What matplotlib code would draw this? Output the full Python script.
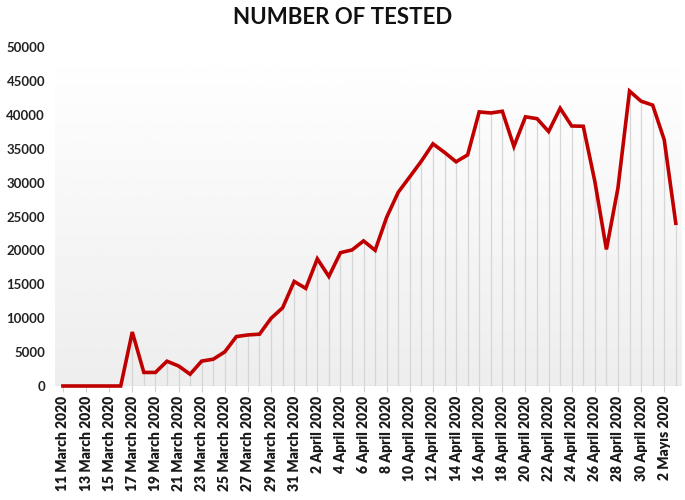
import numpy as np
import pandas as pd
import matplotlib
matplotlib.use("Agg")
import matplotlib.pyplot as plt

plt.rcParams['font.family'] = ['Lato', 'DejaVu Sans']

# daily number of tests, 11 March 2020 .. 3 May 2020
dates = pd.date_range("2020-03-11", "2020-05-03", freq="D")
tested = [0, 0, 0, 0, 0, 0, 7960, 2000, 2000, 3656, 2953, 1738, 3672, 3952,
          5035, 7286, 7533, 7641, 9982, 11535, 15422, 14396, 18757, 16160,
          19664, 20065, 21400, 20023, 24900, 28578, 30864, 33170, 35720,
          34456, 33070, 34090, 40427, 40270, 40520, 35344, 39703, 39429,
          37535, 40962, 38351, 38308, 30177, 20143, 29230, 43498, 42004,
          41431, 36318, 24001]
yticks = [0, 5000, 10000, 15000, 20000, 25000, 30000, 35000, 40000, 45000, 50000]


def date_label(d):
    month = {3: "March", 4: "April", 5: "Mayıs"}[d.month]
    return f"{d.day} {month} 2020"


fig = plt.figure(figsize=(6.85, 5.0), dpi=100)
ax = fig.add_axes([0.08, 0.228, 0.915, 0.678])

x = np.arange(len(tested))

# soft grey gradient background
grad = np.linspace(0.93, 1.0, 256).reshape(-1, 1)
ax.imshow(grad, cmap="gray", vmin=0, vmax=1, aspect="auto",
          extent=[-0.7, len(tested) - 0.5, 0, 50000], origin="lower", zorder=0)

# drop lines from every point
ax.vlines(x, 0, tested, color="#d6d6d6", linewidth=0.9, zorder=1)
ax.axhline(0, color="#d0d0d0", linewidth=1, zorder=1)

ax.plot(x, tested, color="#c00000", linewidth=2.6, solid_joinstyle="miter",
        zorder=3, clip_on=False)

ax.set_xlim(-0.7, len(tested) - 0.5)
ax.set_ylim(0, 50000)
ax.set_yticks(yticks)
ax.set_yticklabels([str(v) for v in yticks], fontsize=9.5, fontweight="bold",
                   color="#222222")
ticks = x[::2]
ax.set_xticks(ticks)
ax.set_xticklabels([date_label(dates[i]) for i in ticks], rotation=90,
                   fontsize=10, fontweight="heavy", color="#1a1a1a")
ax.tick_params(axis="y", length=0, pad=7)
ax.tick_params(axis="x", length=4, color="#d0d0d0", pad=3)
for s in ax.spines.values():
    s.set_visible(False)

fig.suptitle("NUMBER OF TESTED", x=0.5, y=0.985, fontsize=16,
             fontweight="bold", color="#111111")

fig.savefig("out.png", dpi=100)
